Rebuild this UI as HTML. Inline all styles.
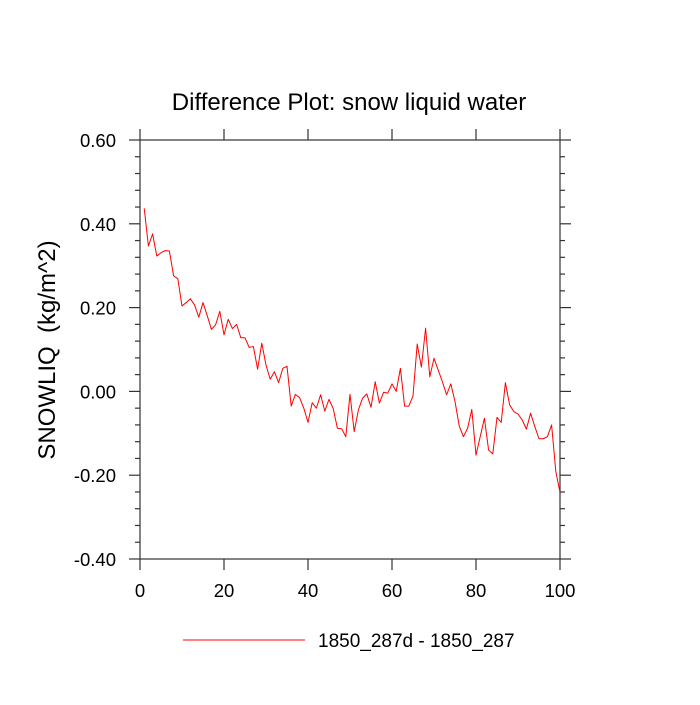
<!DOCTYPE html>
<html><head><meta charset="utf-8"><style>
body{margin:0;background:#fff}
svg text{font-family:"Liberation Sans",sans-serif;fill:#000}
</style></head><body>
<svg id="c" width="700" height="700">
<text x="349" y="110" font-size="24" text-anchor="middle">Difference Plot: snow liquid water</text>
<text transform="translate(55,350) rotate(-90)" font-size="24" text-anchor="middle" xml:space="preserve">SNOWLIQ  (kg/m^2)</text>
<g id="axes"></g>
<g id="series"></g>
<line x1="183" y1="640" x2="305" y2="640" stroke="#ff0000" stroke-width="1"/>
<text x="318" y="647" font-size="19">1850_287d - 1850_287</text>
</svg>
<script>
const xTicks=[0,20,40,60,80,100];
const yTicks=[0.6,0.4,0.2,0.0,-0.2,-0.4];
const yTickLabels=["0.60","0.40","0.20","0.00","-0.20","-0.40"];
const values=[0.437,0.347,0.376,0.323,0.331,0.336,0.335,0.276,0.269,0.204,
0.212,0.221,0.206,0.177,0.212,0.181,0.148,0.159,0.191,0.135,
0.172,0.150,0.160,0.128,0.128,0.105,0.107,0.053,0.115,0.063,
0.029,0.047,0.021,0.055,0.060,-0.035,-0.007,-0.015,-0.040,-0.074,
-0.027,-0.040,-0.008,-0.047,-0.019,-0.041,-0.088,-0.089,-0.108,-0.007,
-0.096,-0.044,-0.016,-0.006,-0.038,0.023,-0.028,-0.002,-0.004,0.018,
0.000,0.055,-0.035,-0.035,-0.011,0.113,0.058,0.151,0.035,0.079,
0.051,0.023,-0.008,0.018,-0.024,-0.082,-0.108,-0.088,-0.043,-0.152,
-0.108,-0.064,-0.140,-0.149,-0.062,-0.074,0.021,-0.032,-0.048,-0.054,
-0.068,-0.090,-0.052,-0.084,-0.113,-0.113,-0.108,-0.080,-0.191,-0.241];
const NS="http://www.w3.org/2000/svg";
const L=140,R=560,T=140,B=559;
const sx=v=>L+(v-0)/(100-0)*(R-L);
const sy=v=>T+(0.6-v)/(0.6+0.4)*(B-T);
const ax=document.getElementById('axes');
const AC='#333';
function mk(tag,a,parent){const e=document.createElementNS(NS,tag);for(const k in a)e.setAttribute(k,a[k]);parent.appendChild(e);return e;}
const frame=mk('rect',{x:L,y:T,width:R-L,height:B-T,fill:'none',stroke:AC,'stroke-width':1.2},ax);


xTicks.forEach(v=>{const x=sx(v);
 mk('line',{x1:x,y1:B,x2:x,y2:B+11,stroke:AC,'stroke-width':1.2},ax);
 mk('line',{x1:x,y1:T,x2:x,y2:T-11,stroke:AC,'stroke-width':1.2},ax);});
for(let i=0;i<=25;i++){const v=-0.4+i*0.04;const y=sy(v);const major=i%5===0;const len=major?11:5;
 mk('line',{x1:L,y1:y,x2:L-len,y2:y,stroke:AC,'stroke-width':1.2},ax);
 mk('line',{x1:R,y1:y,x2:R+len,y2:y,stroke:AC,'stroke-width':1.2},ax);}
xTicks.forEach(v=>{const t=mk('text',{x:sx(v),y:B+38,'font-size':18.5,'text-anchor':'middle'},ax);t.textContent=v;
 
 });
yTicks.forEach((v,i)=>{const t=mk('text',{x:L-24,y:sy(v)+7,'font-size':18.5,'text-anchor':'end'},ax);t.textContent=yTickLabels[i];
 
 });
const pts=values.map((v,i)=>sx(i+1)+','+sy(v)).join(' ');
const pl=mk('polyline',{points:pts,fill:'none',stroke:'#ff0000','stroke-width':1,'stroke-linejoin':'round'},document.getElementById('series'));


</script>
</body></html>
